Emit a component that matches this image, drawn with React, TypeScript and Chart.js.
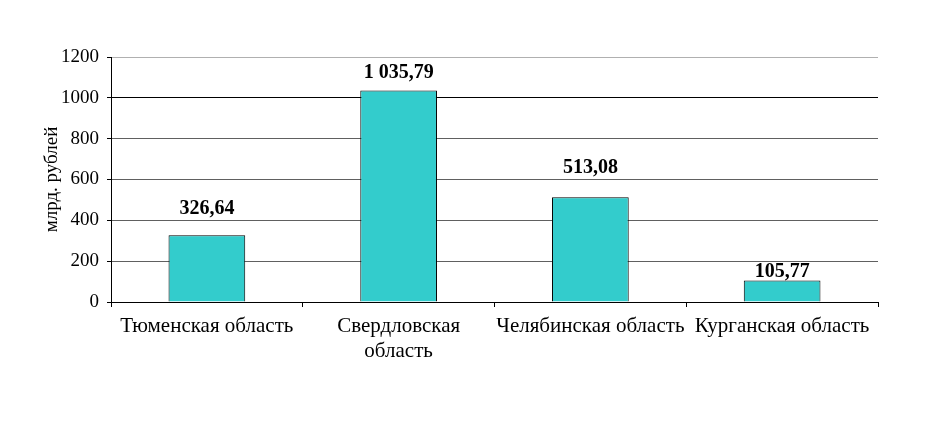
import React, { useEffect, useRef } from "react";
import { Chart, registerables } from "chart.js";

Chart.register(...registerables);

const categories: (string | string[])[] = [
  "Тюменская область",
  ["Свердловская", "область"],
  "Челябинская область",
  "Курганская область",
];
const values: number[] = [326.64, 1035.79, 513.08, 105.77];
const valueLabels: string[] = ["326,64", "1 035,79", "513,08", "105,77"];
const yTitle = "млрд. рублей";

// style: gap in px between label baseline and bar top (as placed in the original)
const labelGaps: number[] = [21, 13, 24, 3];

const FONT = "'Liberation Serif', 'Times New Roman', serif";

const extrasPlugin = {
  id: "extras",
  afterDatasetsDraw(chart: any) {
    const ctx = chart.ctx;
    const meta = chart.getDatasetMeta(0);
    ctx.save();
    ctx.font = `bold 20px ${FONT}`;
    ctx.fillStyle = "#000";
    ctx.textAlign = "center";
    ctx.textBaseline = "alphabetic";
    meta.data.forEach((bar: any, i: number) => {
      ctx.fillText(valueLabels[i], bar.x, bar.y - labelGaps[i]);
    });
    // y axis title
    const area = chart.chartArea;
    ctx.font = `19px ${FONT}`;
    ctx.textAlign = "center";
    ctx.textBaseline = "middle";
    ctx.translate(52, (area.top + area.bottom) / 2);
    ctx.rotate(-Math.PI / 2);
    ctx.fillText(yTitle, 0, 0);
    ctx.restore();
  },
};

export default function App() {
  const ref = useRef<HTMLCanvasElement | null>(null);
  useEffect(() => {
    if (!ref.current) return;
    const chart = new Chart(ref.current, {
      type: "bar",
      data: {
        labels: categories,
        datasets: [
          {
            data: values,
            backgroundColor: "#33CCCC",
            borderColor: "#000000",
            borderWidth: 1,
            barPercentage: 0.4,
            categoryPercentage: 1,
          },
        ],
      },
      options: {
        animation: false,
        responsive: false,
        maintainAspectRatio: false,
        layout: { padding: { top: 57, right: 66, bottom: 0, left: 0 } },
        plugins: {
          legend: { display: false },
          tooltip: { enabled: false },
        },
        scales: {
          x: {
            grid: {
              display: true,
              drawOnChartArea: false,
              drawTicks: true,
              tickLength: 5,
              color: "#000",
              offset: true,
            },
            border: { display: true, color: "#000", width: 1 },
            ticks: {
              color: "#000",
              font: { family: FONT, size: 21 },
              autoSkip: false,
              maxRotation: 0,
              minRotation: 0,
              padding: 7,
            },
            afterFit(scale: any) {
              scale.height = 422 - 302;
            },
          },
          y: {
            min: 0,
            max: 1200,
            ticks: {
              stepSize: 200,
              color: "#000",
              font: { family: FONT, size: 19 },
              padding: 8,
              callback: (v: any) => String(v),
            },
            grid: {
              color: (c: any) => {
                const v = c.tick && c.tick.value;
                if (v === 1200) return "#b0b0b0";
                if (v === 1000) return "#000";
                return "#606060";
              },
              lineWidth: 1,
              tickLength: 4,
              tickColor: "#000",
            },
            border: { display: true, color: "#000", width: 1 },
            afterFit(scale: any) {
              scale.width = 111;
            },
          },
        },
      },
      plugins: [extrasPlugin],
    });
    return () => chart.destroy();
  }, []);
  return (
    <div style={{ position: "fixed", left: 0, top: 0, width: 944, height: 422, background: "#fff" }}>
      <canvas ref={ref} width={944} height={422} style={{ width: 944, height: 422, display: "block" }} />
    </div>
  );
}
